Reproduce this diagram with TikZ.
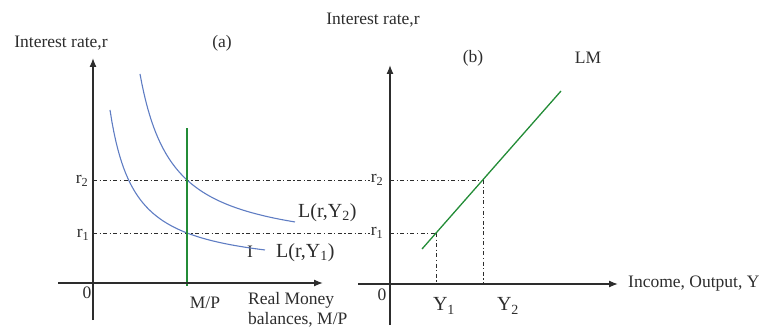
\documentclass[tikz,border=0pt]{standalone}
\usepackage{fontspec}
\setmainfont{Liberation Serif}
\usetikzlibrary{arrows.meta}
\definecolor{curveblue}{RGB}{95,125,195}
\definecolor{mgreen}{RGB}{35,140,55}
\definecolor{ink}{RGB}{45,45,45}
\begin{document}
\begin{tikzpicture}[x=1pt,y=-1pt,
  axis/.style={draw=ink, line width=1.3pt, -{Latex[length=9pt,width=7pt]}},
  guide/.style={draw=ink, line width=0.9pt, dash pattern=on 4pt off 2.5pt on 1.2pt off 2.5pt},
  lbl/.style={inner sep=1pt, font=\fontsize{17.5}{20}\selectfont, text=ink},
  big/.style={inner sep=1pt, font=\fontsize{20}{22}\selectfont, text=ink},
  demand/.style={draw=curveblue, line width=1.1pt},
  supply/.style={draw=mgreen, line width=2pt},
  lmline/.style={draw=mgreen, line width=1.3pt}]
\useasboundingbox (0,0) rectangle (761,329);
% ---- panel (a) ----
\coordinate (aYtop) at (93,58);
\coordinate (aYbot) at (93,320);
\coordinate (aXl) at (58,283);
\coordinate (aXr) at (323,283);
\coordinate (aR2) at (93,180);
\coordinate (aR1) at (93,233);
\coordinate (MPtop) at (187,128);
\coordinate (MPbot) at (187,286);
% ---- panel (b) ----
\coordinate (bYtop) at (390,65);
\coordinate (bYbot) at (390,325);
\coordinate (bXl) at (358,284);
\coordinate (bXr) at (618,284);
\coordinate (bR2) at (390,180);
\coordinate (bR1) at (390,233);
\coordinate (P1) at (436,233);
\coordinate (P2) at (483,180);
\coordinate (P1b) at (436,284);
\coordinate (P2b) at (483,284);
\coordinate (LMa) at (422,249);
\coordinate (LMb) at (561,91);

% labels
\node[lbl] (tA) at (61,43) {Interest rate,r};
\node[lbl] (pa) at (222,43) {(a)};
\node[lbl] (tB) at (373,20) {Interest rate,r};
\node[lbl] (pb) at (473,58) {(b)};
\node[lbl] (lm) at (588,58) {LM};
\node[lbl] (r2L) at (82,181) {r\textsubscript{2}};
\node[lbl] (r1L) at (83,235) {r\textsubscript{1}};
\node[lbl] (zA) at (87,293) {0};
\node[lbl] (r2R) at (377,180) {r\textsubscript{2}};
\node[lbl] (r1R) at (377,233) {r\textsubscript{1}};
\node[lbl] (zB) at (382,295) {0};
\node[lbl] (mp) at (205,303) {M/P};
\node[lbl, anchor=north west, align=left, inner sep=0pt] (rmb) at (248,292) {Real Money\\balances, M/P};
\node[lbl, anchor=west] (inc) at (627,284) {Income, Output, Y};
\node[big] (y1) at (444,306) {Y\textsubscript{1}};
\node[big] (y2) at (508,306) {Y\textsubscript{2}};
\node[big, anchor=west] (L2) at (297,213) {L(r,Y\textsubscript{2})};
\node[big, anchor=west] (L1) at (275,253) {L(r,Y\textsubscript{1})};
\node[lbl] (tick) at (250,252) {I};

% guides
\draw[guide] (aR2) -- (r2R.west);
\draw[guide] (aR1) -- (r1R.west);
\draw[guide] (bR2) -- (P2);
\draw[guide] (bR1) -- (P1);
\draw[guide] (P2) -- (P2b);
\draw[guide] (P1) -- (P1b);

% curves
\draw[demand] plot[domain=110:265, samples=80] (\x, {272.1-3972/(\x-85.5)});
\draw[demand] plot[domain=140:295, samples=80] (\x, {252.8-5776.7/(\x-107.7)});
\draw[supply] (MPtop) -- (MPbot);
\draw[lmline] (LMa) -- (LMb);

% axes
\draw[axis] (aYbot) -- (aYtop);
\draw[axis] (aXl) -- (aXr);
\draw[axis] (bYbot) -- (bYtop);
\draw[axis] (bXl) -- (bXr);
\end{tikzpicture}
\end{document}
